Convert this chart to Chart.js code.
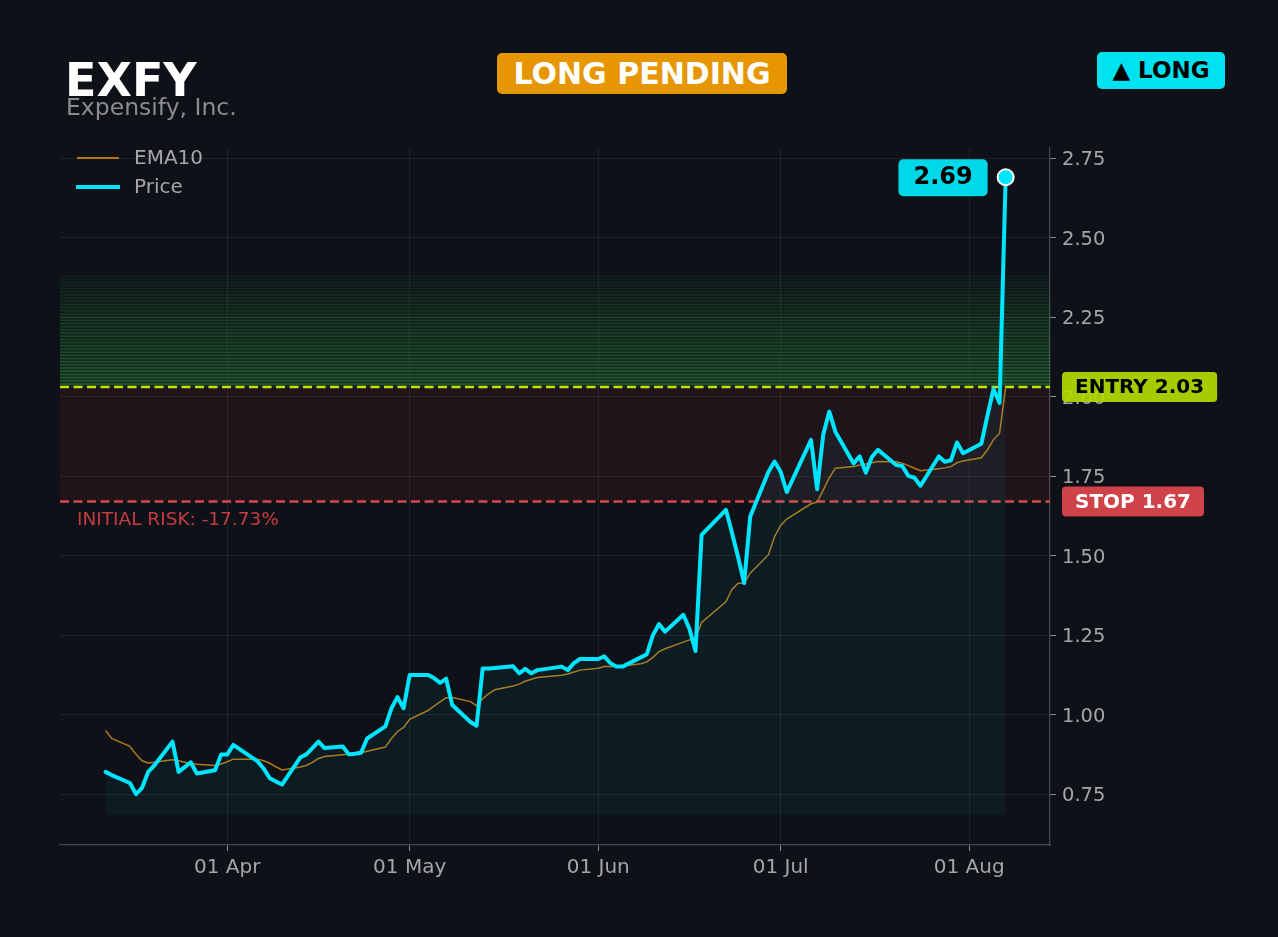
<!DOCTYPE html>
<html>
<head>
<meta charset="utf-8">
<title>EXFY</title>
<script src="https://cdn.jsdelivr.net/npm/chart.js@4.4.1/dist/chart.umd.min.js"></script>
<style>
    html, body { margin: 0; padding: 0; background: #0e1118; }
    #wrap { position: relative; width: 1278px; height: 937px; font-family: 'DejaVu Sans', sans-serif; overflow: hidden; }
    #chart { position: absolute; left: 0; top: 0; }
    #ticker { position: absolute; left: 65px; top: 57px; font: bold 46px/46px 'DejaVu Sans'; color: #ffffff; }
    #company { position: absolute; left: 66px; top: 96px; font: 23.5px/23.5px 'DejaVu Sans'; color: #8c8c8c; }
    #status { position: absolute; left: 497px; top: 53px; width: 290px; height: 41px; border-radius: 5px;
              background: #e69600; color: #ffffff; font: bold 30px/41px 'DejaVu Sans'; text-align: center; }
    #side { position: absolute; left: 1097px; top: 52px; width: 128px; height: 37px; border-radius: 5px;
            background: #00e2f0; color: #000000; font: bold 23px/37px 'DejaVu Sans'; text-align: center; }
</style>
</head>
<body>
<div id="wrap">
    <canvas id="chart" width="1278" height="937"></canvas>
    <div id="ticker">EXFY</div>
    <div id="company">Expensify, Inc.</div>
    <div id="status">LONG PENDING</div>
    <div id="side">▲ LONG</div>
</div>
<script>
// trading days (2026)
const dates = [
    "2026-03-12", "2026-03-13", "2026-03-16", "2026-03-17", "2026-03-18", "2026-03-19", "2026-03-20",
    "2026-03-23", "2026-03-24", "2026-03-25", "2026-03-26", "2026-03-27", "2026-03-30", "2026-03-31",
    "2026-04-01", "2026-04-02", "2026-04-06", "2026-04-07", "2026-04-08", "2026-04-09", "2026-04-10",
    "2026-04-13", "2026-04-14", "2026-04-15", "2026-04-16", "2026-04-17", "2026-04-20", "2026-04-21",
    "2026-04-22", "2026-04-23", "2026-04-24", "2026-04-27", "2026-04-28", "2026-04-29", "2026-04-30",
    "2026-05-01", "2026-05-04", "2026-05-05", "2026-05-06", "2026-05-07", "2026-05-08", "2026-05-11",
    "2026-05-12", "2026-05-13", "2026-05-14", "2026-05-15", "2026-05-18", "2026-05-19", "2026-05-20",
    "2026-05-21", "2026-05-22", "2026-05-26", "2026-05-27", "2026-05-28", "2026-05-29",
    "2026-06-01", "2026-06-02", "2026-06-03", "2026-06-04", "2026-06-05", "2026-06-08", "2026-06-09",
    "2026-06-10", "2026-06-11", "2026-06-12", "2026-06-15", "2026-06-16", "2026-06-17", "2026-06-18",
    "2026-06-22", "2026-06-23", "2026-06-24", "2026-06-25", "2026-06-26", "2026-06-29", "2026-06-30",
    "2026-07-01", "2026-07-02", "2026-07-06", "2026-07-07", "2026-07-08", "2026-07-09", "2026-07-10",
    "2026-07-13", "2026-07-14", "2026-07-15", "2026-07-16", "2026-07-17", "2026-07-20", "2026-07-21",
    "2026-07-22", "2026-07-23", "2026-07-24", "2026-07-27", "2026-07-28", "2026-07-29", "2026-07-30",
    "2026-07-31", "2026-08-03", "2026-08-04", "2026-08-05", "2026-08-06", "2026-08-07"
];

const price = [
    0.82, 0.81, 0.785, 0.75, 0.77, 0.82, 0.84, 0.915, 0.82, 0.835, 0.85, 0.815, 0.825, 0.875,
    0.875, 0.905, 0.853, 0.83, 0.80, 0.79, 0.78, 0.865, 0.875, 0.895, 0.915, 0.895, 0.90, 0.875,
    0.877, 0.88, 0.925, 0.963, 1.02, 1.055, 1.02,
    1.125, 1.125, 1.115, 1.10, 1.113, 1.03, 0.977, 0.965, 1.145, 1.145, 1.147, 1.152, 1.13, 1.144,
    1.13, 1.14, 1.151, 1.14, 1.162, 1.175,
    1.175, 1.183, 1.162, 1.151, 1.151, 1.18, 1.19, 1.25, 1.285, 1.261, 1.314, 1.27, 1.20, 1.565,
    1.644, 1.572, 1.496, 1.414, 1.623, 1.764, 1.796,
    1.764, 1.70, 1.864, 1.709, 1.88, 1.953, 1.89, 1.79, 1.812, 1.761, 1.81, 1.833, 1.785, 1.782,
    1.751, 1.745, 1.72, 1.812, 1.795, 1.80, 1.856, 1.822,
    1.852, 1.94, 2.024, 1.98, 2.69
];

const ema10 = [
    0.95, 0.925, 0.90, 0.875, 0.855, 0.848, 0.85, 0.858, 0.855, 0.85, 0.847, 0.844, 0.84, 0.845,
    0.852, 0.86, 0.86, 0.855, 0.847, 0.836, 0.826, 0.835, 0.84, 0.85, 0.862, 0.868, 0.874, 0.876,
    0.878, 0.88, 0.885, 0.898, 0.925, 0.947, 0.96,
    0.985, 1.013, 1.027, 1.04, 1.053, 1.054, 1.041, 1.028, 1.05, 1.066, 1.078, 1.09, 1.096, 1.105,
    1.111, 1.117, 1.124, 1.128, 1.134, 1.14,
    1.146, 1.151, 1.151, 1.151, 1.153, 1.16, 1.166, 1.18, 1.198, 1.207, 1.228, 1.235, 1.24, 1.29,
    1.355, 1.394, 1.413, 1.413, 1.445, 1.503, 1.56,
    1.595, 1.615, 1.663, 1.668, 1.706, 1.745, 1.775, 1.78, 1.785, 1.788, 1.792, 1.796, 1.795, 1.791,
    1.783, 1.775, 1.767, 1.773, 1.776, 1.78, 1.792, 1.798,
    1.808, 1.833, 1.865, 1.885, 2.03
];

const xTickDates = ["2026-04-01", "2026-05-01", "2026-06-01", "2026-07-01", "2026-08-01"];
const xTickLabels = ["01 Apr", "01 May", "01 Jun", "01 Jul", "01 Aug"];
const xAxisRange = ["2026-03-04T12:00:00Z", "2026-08-14T07:00:00Z"];
const yTicks = [0.75, 1.00, 1.25, 1.50, 1.75, 2.00, 2.25, 2.50, 2.75];
const yAxisRange = [0.59, 2.782];

const entryPrice = 2.03;
const stopPrice = 1.67;
const fillBase = 0.685;
const profitBand = 0.35;   // height of the faded green band above entry
const bandStep = 0.01;

const origin = Date.parse("2026-04-01T00:00:00Z");
function dayNum(s) {
    return (Date.parse(s.length > 10 ? s : s + "T00:00:00Z") - origin) / 86400000;
}

const CYAN = "#00e5ff";
const EMA_COLOR = "#b07818";
const lastIdx = price.length - 1;

Chart.defaults.font.family = "'DejaVu Sans', sans-serif";

function roundRect(ctx, x, y, w, h, r) {
    ctx.beginPath();
    ctx.moveTo(x + r, y);
    ctx.arcTo(x + w, y, x + w, y + h, r);
    ctx.arcTo(x + w, y + h, x, y + h, r);
    ctx.arcTo(x, y + h, x, y, r);
    ctx.arcTo(x, y, x + w, y, r);
    ctx.closePath();
}

// zones + entry/stop lines under the series
const zonePlugin = {
    id: "zones",
    beforeDatasetsDraw(chart) {
        const { ctx, chartArea: a, scales: { y } } = chart;
        const yEntry = y.getPixelForValue(entryPrice);
        const yStop = y.getPixelForValue(stopPrice);
        ctx.save();
        ctx.beginPath();
        ctx.rect(a.left, a.top, a.right - a.left, a.bottom - a.top);
        ctx.clip();

        // risk zone
        ctx.fillStyle = "rgba(220, 53, 69, 0.09)";
        ctx.fillRect(a.left, yEntry, a.right - a.left, yStop - yEntry);

        // faded green stripes above entry
        const n = Math.round(profitBand / bandStep);
        for (let k = 0; k < n; k++) {
            const f = 1 - k / n;
            const y0 = y.getPixelForValue(entryPrice + k * bandStep);
            const y1 = y.getPixelForValue(entryPrice + (k + 1) * bandStep);
            ctx.fillStyle = `rgba(40, 150, 60, ${0.03 + 0.2 * f})`;
            ctx.fillRect(a.left, y1, a.right - a.left, y0 - y1);
            ctx.strokeStyle = `rgba(70, 180, 80, ${0.05 + 0.32 * f})`;
            ctx.lineWidth = 1.5;
            ctx.beginPath();
            ctx.moveTo(a.left, y1);
            ctx.lineTo(a.right, y1);
            ctx.stroke();
        }

        ctx.lineWidth = 2.5;
        ctx.setLineDash([9, 4.5]);
        ctx.strokeStyle = "#c6e200";
        ctx.beginPath();
        ctx.moveTo(a.left, yEntry);
        ctx.lineTo(a.right, yEntry);
        ctx.stroke();
        ctx.strokeStyle = "#d94848";
        ctx.beginPath();
        ctx.moveTo(a.left, yStop);
        ctx.lineTo(a.right, yStop);
        ctx.stroke();
        ctx.restore();
    },
    afterDatasetsDraw(chart) {
        const { ctx, chartArea: a, scales: { x, y } } = chart;
        ctx.save();

        // legend
        ctx.font = "20px 'DejaVu Sans'";
        ctx.textBaseline = "middle";
        ctx.fillStyle = "#a6a6a6";
        ctx.lineCap = "butt";
        ctx.strokeStyle = EMA_COLOR;
        ctx.lineWidth = 2;
        ctx.beginPath();
        ctx.moveTo(a.left + 17, a.top + 10);
        ctx.lineTo(a.left + 59, a.top + 10);
        ctx.stroke();
        ctx.fillText("EMA10", a.left + 74, a.top + 11);
        ctx.strokeStyle = CYAN;
        ctx.lineWidth = 4;
        ctx.beginPath();
        ctx.moveTo(a.left + 16, a.top + 39);
        ctx.lineTo(a.left + 60, a.top + 39);
        ctx.stroke();
        ctx.fillText("Price", a.left + 74, a.top + 40);

        // initial risk
        const risk = (stopPrice - entryPrice) / entryPrice * 100;
        ctx.font = "18.5px 'DejaVu Sans'";
        ctx.fillStyle = "#c63c40";
        ctx.fillText(`INITIAL RISK: ${risk.toFixed(2)}%`, a.left + 17, y.getPixelForValue(stopPrice) + 19);

        // last price badge
        const px = x.getPixelForValue(dayNum(dates[lastIdx]));
        const py = y.getPixelForValue(price[lastIdx]);
        const txt = price[lastIdx].toFixed(2);
        ctx.font = "bold 24px 'DejaVu Sans'";
        const w = ctx.measureText(txt).width + 30;
        ctx.fillStyle = "#00d8e8";
        roundRect(ctx, px - 18 - w, py - 18, w, 37, 5);
        ctx.fill();
        ctx.fillStyle = "#000000";
        ctx.textAlign = "center";
        ctx.fillText(txt, px - 18 - w / 2, py + 1);
        ctx.restore();
    },
    afterDraw(chart) {
        const { ctx, chartArea: a, scales: { y } } = chart;
        const tags = [
            { text: `ENTRY ${entryPrice.toFixed(2)}`, value: entryPrice, bg: "#b2dc00", fg: "#000000" },
            { text: `STOP ${stopPrice.toFixed(2)}`, value: stopPrice, bg: "#de464d", fg: "#ffffff" }
        ];
        ctx.save();
        ctx.font = "bold 20px 'DejaVu Sans'";
        ctx.textBaseline = "middle";
        tags.forEach(t => {
            const yy = y.getPixelForValue(t.value);
            const w = ctx.measureText(t.text).width + 26;
            ctx.globalAlpha = 0.92;
            ctx.fillStyle = t.bg;
            roundRect(ctx, a.right + 12, yy - 15, w, 30, 4);
            ctx.fill();
            ctx.globalAlpha = 1;
            ctx.fillStyle = t.fg;
            ctx.fillText(t.text, a.right + 25, yy + 1);
        });
        ctx.restore();
    }
};

const gridColor = "rgba(255, 255, 255, 0.07)";

new Chart(document.getElementById("chart"), {
    type: "line",
    data: {
        datasets: [
            {
                label: "EMA10",
                data: dates.map((d, i) => ({ x: dayNum(d), y: ema10[i] })),
                borderColor: EMA_COLOR,
                borderWidth: 1.5,
                pointRadius: 0,
                fill: false,
                tension: 0,
                order: 2
            },
            {
                label: "Price",
                data: dates.map((d, i) => ({ x: dayNum(d), y: price[i] })),
                borderColor: CYAN,
                borderWidth: 4,
                borderJoinStyle: "round",
                borderCapStyle: "round",
                backgroundColor: "rgba(0, 229, 255, 0.05)",
                fill: { value: fillBase },
                pointRadius: ctx => ctx.dataIndex === lastIdx ? 8 : 0,
                pointBackgroundColor: CYAN,
                pointBorderColor: "#ffffff",
                pointBorderWidth: 2,
                tension: 0,
                order: 1
            }
        ]
    },
    options: {
        responsive: false,
        animation: false,
        events: [],
        layout: {
            padding: { left: 60, top: 148, right: 0, bottom: 0 }
        },
        plugins: {
            legend: { display: false },
            tooltip: { enabled: false }
        },
        scales: {
            x: {
                type: "linear",
                min: dayNum(xAxisRange[0]),
                max: dayNum(xAxisRange[1]),
                afterBuildTicks: s => { s.ticks = xTickDates.map(d => ({ value: dayNum(d) })); },
                afterFit: s => { s.height = 92; },
                grid: { color: gridColor, tickColor: "#8a8a8a", tickLength: 6 },
                border: { display: true, color: "#454a52", width: 1.2 },
                ticks: {
                    color: "#a6a6a6",
                    font: { family: "'DejaVu Sans'", size: 20 },
                    padding: 5,
                    autoSkip: false,
                    maxRotation: 0,
                    callback: (v, i) => xTickLabels[i]
                }
            },
            y: {
                position: "right",
                min: yAxisRange[0],
                max: yAxisRange[1],
                afterBuildTicks: s => { s.ticks = yTicks.map(v => ({ value: v })); },
                afterFit: s => { s.width = 228; },
                grid: { color: gridColor, tickColor: "#8a8a8a", tickLength: 6 },
                border: { display: true, color: "#454a52", width: 1.2 },
                ticks: {
                    color: "#a6a6a6",
                    font: { family: "'DejaVu Sans'", size: 19.5 },
                    padding: 6,
                    labelOffset: 2,
                    callback: v => Number(v).toFixed(2)
                }
            }
        }
    },
    plugins: [zonePlugin]
});
</script>
</body>
</html>
